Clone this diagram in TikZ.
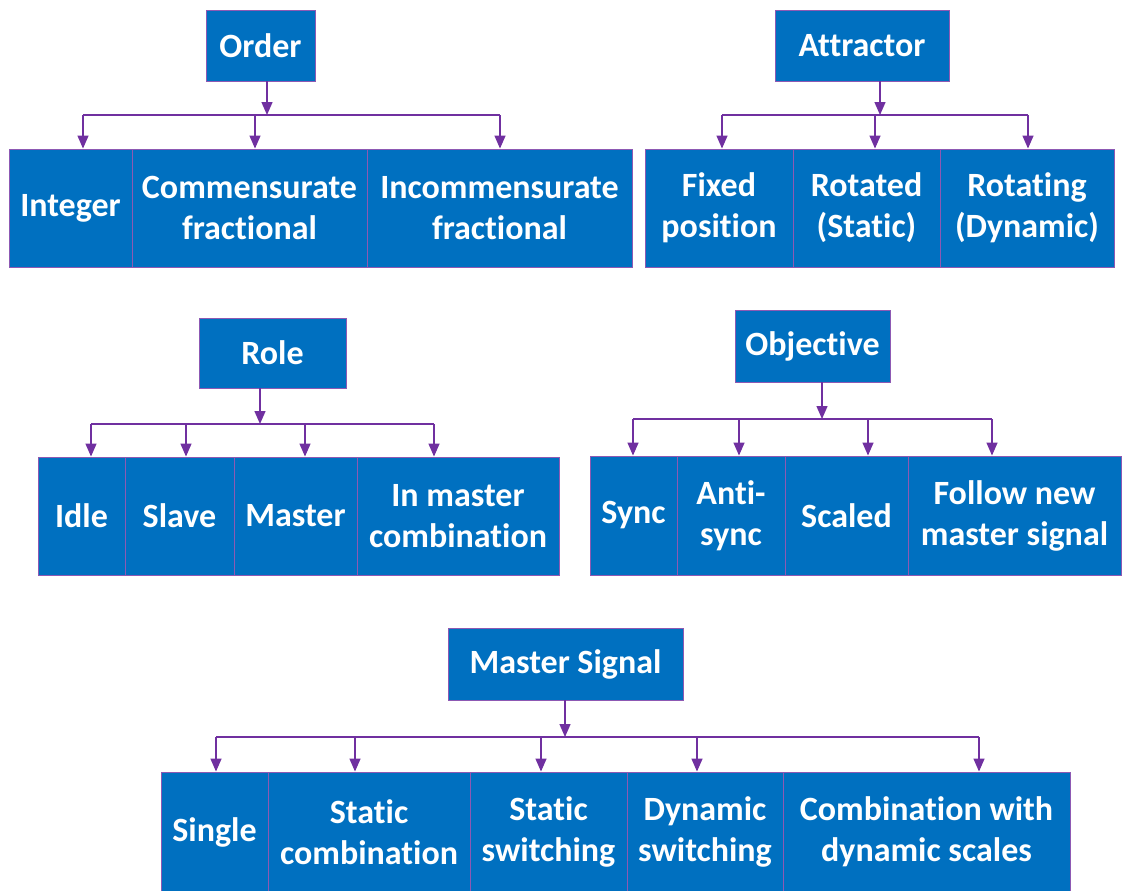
\documentclass[tikz,border=0pt]{standalone}
\usepackage{fontspec}
\setmainfont{Carlito}[Ligatures={CommonOff}]
\usetikzlibrary{arrows.meta}
\definecolor{boxblue}{HTML}{0070C0}
\definecolor{linepurple}{HTML}{7030A0}
\begin{document}
\begin{tikzpicture}[x=1pt,y=-1pt,
  box/.style={draw=linepurple!80, line width=0.9pt, fill=boxblue, text=white,
    font=\fontsize{34}{41}\selectfont\bfseries, align=center, inner sep=0pt},
  cell/.style 2 args={box, minimum width=#1pt, minimum height=#2pt},
  link/.style={draw=linepurple, line width=1.4pt},
  arr/.style={link, -{Triangle[length=13pt,width=11pt]}}]
\useasboundingbox (0,0) rectangle (1122,891);

% ---------- Order ----------
\node[cell={109}{71}] (order) at (260.5,45.5) {Order};
\node[cell={123}{118}] (int)  at (70.5,208)  {Integer};
\node[cell={235}{118}] (comm) at (249.5,208) {Commensurate\\fractional};
\node[cell={265}{118}] (inc)  at (499.5,208) {Incommensurate\\fractional};
\coordinate (oj) at (267,115);
\coordinate (o1) at (83,115);
\coordinate (o2) at (255,115);
\coordinate (o3) at (500,115);
\draw[arr] (order.south -| oj) -- (oj);
\draw[link] (o1) -- (o3);
\draw[arr] (o1) -- (o1 |- int.north);
\draw[arr] (o2) -- (o2 |- comm.north);
\draw[arr] (o3) -- (o3 |- inc.north);

% ---------- Attractor ----------
\node[cell={174}{71}] (attr) at (862,45.5) {Attractor};
\node[cell={148}{118}] (fix) at (719,208)   {Fixed\\position};
\node[cell={147}{118}] (rot) at (866.5,208) {Rotated\\(Static)};
\node[cell={174}{118}] (rtg) at (1027,208)  {Rotating\\(Dynamic)};
\coordinate (aj) at (880,115);
\coordinate (a1) at (722,115);
\coordinate (a2) at (875,115);
\coordinate (a3) at (1028,115);
\draw[arr] (attr.south -| aj) -- (aj);
\draw[link] (a1) -- (a3);
\draw[arr] (a1) -- (a1 |- fix.north);
\draw[arr] (a2) -- (a2 |- rot.north);
\draw[arr] (a3) -- (a3 |- rtg.north);

% ---------- Role ----------
\node[cell={147}{70}] (role) at (272.5,353) {Role};
\node[cell={87}{118}]  (idle)  at (81.5,516)  {Idle};
\node[cell={109}{118}] (slave) at (179.5,516) {Slave};
\node[cell={123}{118}] (mast)  at (295.5,516) {Master};
\node[cell={202}{118}] (inm)   at (458,516)   {In master\\combination};
\coordinate (rj) at (260,424);
\coordinate (r1) at (91,424);
\coordinate (r2) at (186,424);
\coordinate (r3) at (305,424);
\coordinate (r4) at (434,424);
\draw[arr] (role.south -| rj) -- (rj);
\draw[link] (r1) -- (r4);
\draw[arr] (r1) -- (r1 |- idle.north);
\draw[arr] (r2) -- (r2 |- slave.north);
\draw[arr] (r3) -- (r3 |- mast.north);
\draw[arr] (r4) -- (r4 |- inm.north);

% ---------- Objective ----------
\node[cell={155}{72}] (obj) at (812.5,346) {Objective};
\node[cell={87}{119}]  (sync)  at (633.5,515.5) {Sync};
\node[cell={108}{119}] (anti)  at (731,515.5)   {Anti-\\sync};
\node[cell={123}{119}] (scal)  at (846.5,515.5) {Scaled};
\node[cell={213}{119}] (foll)  at (1014.5,515.5) {Follow new\\master signal};
\coordinate (bj) at (822,419);
\coordinate (b1) at (633,419);
\coordinate (b2) at (739,419);
\coordinate (b3) at (868,419);
\coordinate (b4) at (992,419);
\draw[arr] (obj.south -| bj) -- (bj);
\draw[link] (b1) -- (b4);
\draw[arr] (b1) -- (b1 |- sync.north);
\draw[arr] (b2) -- (b2 |- anti.north);
\draw[arr] (b3) -- (b3 |- scal.north);
\draw[arr] (b4) -- (b4 |- foll.north);

% ---------- Master Signal ----------
\node[cell={235}{72}] (msig) at (565.5,664) {Master Signal};
\node[cell={107}{120}] (sing) at (214.5,832) {Single};
\node[cell={202}{120}] (scmb) at (369,832)   {Static\\combination};
\node[cell={157}{120}] (sswi) at (548.5,832) {Static\\switching};
\node[cell={156}{120}] (dswi) at (705,832)   {Dynamic\\switching};
\node[cell={287}{120}] (cdyn) at (926.5,832) {Combination with\\dynamic scales};
\coordinate (mj) at (565,737);
\coordinate (m1) at (216,737);
\coordinate (m2) at (355,737);
\coordinate (m3) at (541,737);
\coordinate (m4) at (697,737);
\coordinate (m5) at (979,737);
\draw[arr] (msig.south -| mj) -- (mj);
\draw[link] (m1) -- (m5);
\draw[arr] (m1) -- (m1 |- sing.north);
\draw[arr] (m2) -- (m2 |- scmb.north);
\draw[arr] (m3) -- (m3 |- sswi.north);
\draw[arr] (m4) -- (m4 |- dswi.north);
\draw[arr] (m5) -- (m5 |- cdyn.north);
\end{tikzpicture}
\end{document}
